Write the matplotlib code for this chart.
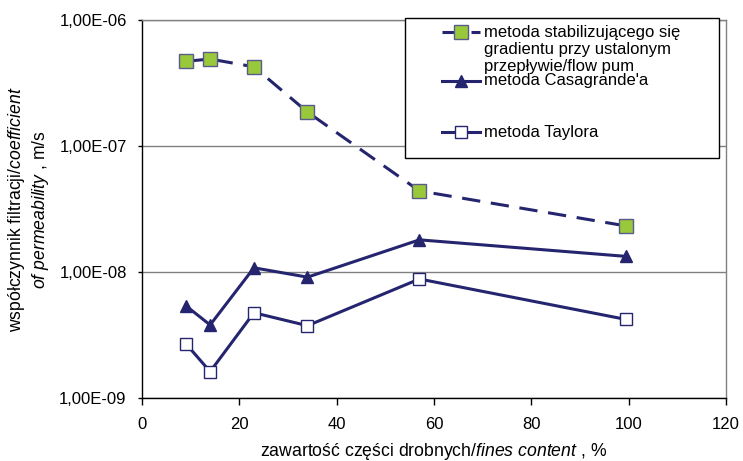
# %%
import matplotlib.pyplot as plt
from matplotlib.lines import Line2D
from matplotlib.patches import Rectangle
from matplotlib.ticker import FixedLocator, FuncFormatter, NullLocator

plt.rcParams["font.family"] = ["Liberation Sans", "DejaVu Sans"]
plt.rcParams["mathtext.fontset"] = "custom"
plt.rcParams["mathtext.rm"] = "Liberation Sans"
plt.rcParams["mathtext.it"] = "Liberation Sans:italic"
plt.rcParams["font.size"] = 12

# %%
fines = [9, 14, 23, 34, 57, 99.5]  # %

k_gradient = [4.7e-7, 4.9e-7, 4.25e-7, 1.86e-7, 4.4e-8, 2.32e-8]
k_casagrande = [5.4e-9, 3.8e-9, 1.08e-8, 9.1e-9, 1.8e-8, 1.33e-8]
k_taylor = [2.7e-9, 1.62e-9, 4.75e-9, 3.75e-9, 8.8e-9, 4.2e-9]

labels = [
    "metoda stabilizującego się\ngradientu przy ustalonym\nprzepływie/flow pum",
    "metoda Casagrande'a",
    "metoda Taylora",
]

navy = "#25256f"
green = "#99c93a"

# %%
W, H = 743, 461
fig = plt.figure(figsize=(W / 100, H / 100), dpi=100)
ax = fig.add_axes([142 / W, 1 - 398 / H, 584 / W, 378 / H])

ax.plot(fines, k_gradient, color=navy, lw=2.2, dashes=(6, 3.5),
        marker="s", ms=9.5, mfc=green, mec="#5a5a8c", mew=1.0, zorder=3)
ax.plot(fines, k_casagrande, color=navy, lw=2.2,
        marker="^", ms=9, mfc=navy, mec=navy, zorder=3)
ax.plot(fines, k_taylor, color=navy, lw=2.2,
        marker="s", ms=8, mfc="white", mec=navy, mew=1.0, zorder=3)

ax.set_yscale("log")
ax.set_ylim(1e-9, 1e-6)
ax.set_xlim(0, 120)
ax.set_xticks(range(0, 121, 20))
ax.yaxis.set_major_locator(FixedLocator([1e-9, 1e-8, 1e-7, 1e-6]))
ax.yaxis.set_minor_locator(NullLocator())
ax.yaxis.set_major_formatter(
    FuncFormatter(lambda v, pos: f"{v:.2E}".replace(".", ","))
)

ax.grid(axis="y", color="#808080", lw=1.0)
ax.set_axisbelow(True)
for side in ["top", "right"]:
    ax.spines[side].set_color("#808080")
    ax.spines[side].set_linewidth(1.0)
for side in ["left", "bottom"]:
    ax.spines[side].set_color("black")
    ax.spines[side].set_linewidth(1.0)
ax.tick_params(axis="x", direction="out", length=5, width=1, pad=9)
ax.tick_params(axis="y", direction="out", length=3, width=1, pad=8)

ax.set_xlabel("zawartość części drobnych/$\\mathit{fines\\ content}$ , %",
              fontsize=12.7, labelpad=6)
ax.set_ylabel("współczynnik filtracji/$\\mathit{coefficient}$\n"
              "$\\mathit{of\\ permeability}$ , m/s", fontsize=12.7, labelpad=6)

# %%
# legend box drawn by hand in pixel units
def px(x, y):
    return x / W, 1 - y / H

x0, y0 = px(405, 158)
x1, y1 = px(719, 18)
fig.add_artist(Rectangle((x0, y0), x1 - x0, y1 - y0, transform=fig.transFigure,
                         facecolor="white", edgecolor="black", lw=1.0, zorder=5))

samples = [
    (32, dict(color=navy, lw=2.2, dashes=(6, 3.5), marker="s", ms=9.5,
              mfc=green, mec="#5a5a8c", mew=1.0)),
    (81, dict(color=navy, lw=2.2, marker="^", ms=9, mfc=navy, mec=navy)),
    (132, dict(color=navy, lw=2.2, marker="s", ms=8, mfc="white", mec=navy, mew=1.0)),
]
for (ypx, style), label in zip(samples, labels):
    xa, ya = px(442, ypx)
    xb, _ = px(480, ypx)
    xm, _ = px(461, ypx)
    fig.add_artist(Line2D([xa, xb], [ya, ya], transform=fig.transFigure,
                          marker=None, zorder=6,
                          **{k: v for k, v in style.items()
                             if k in ("color", "lw", "dashes")}))
    fig.add_artist(Line2D([xm], [ya], transform=fig.transFigure, ls="none", zorder=7,
                          **{k: v for k, v in style.items()
                             if k not in ("color", "lw", "dashes")}))
    for i, line in enumerate(label.split("\n")):
        tx, ty = px(484, ypx + i * 17.5)
        fig.text(tx, ty, line, va="center", ha="left", zorder=8)

fig.savefig("out.png", dpi=100)
